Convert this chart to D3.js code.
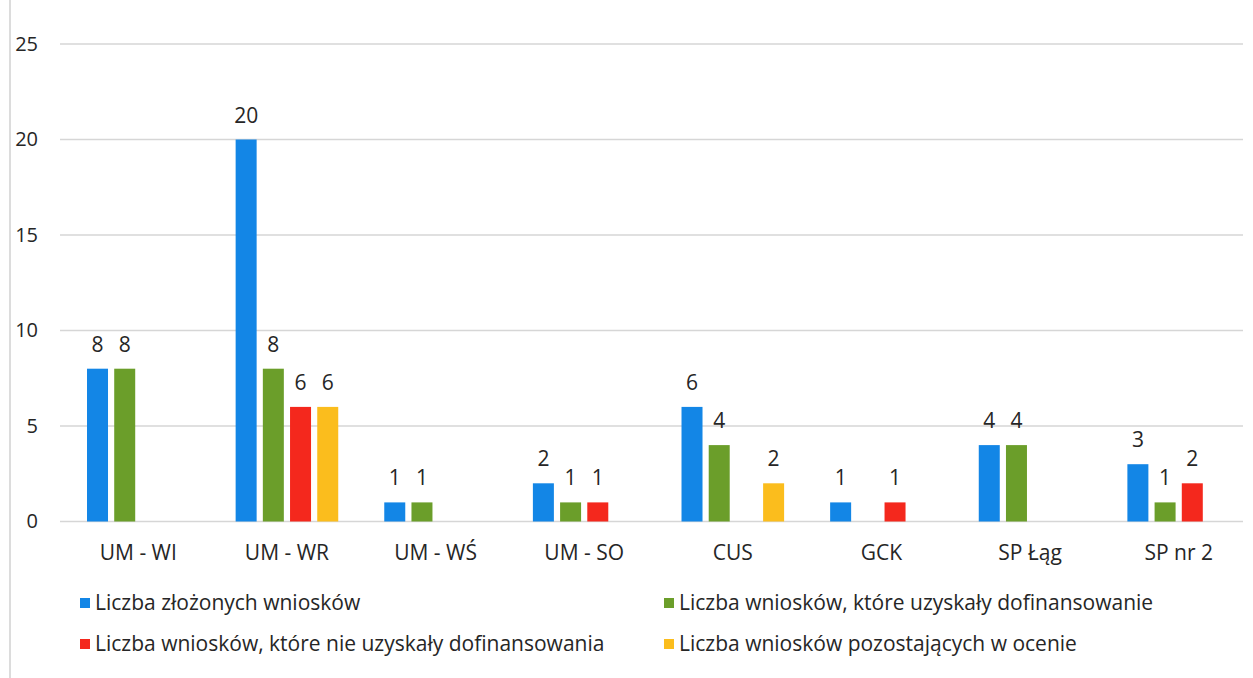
<!DOCTYPE html>
<html>
<head>
<meta charset="utf-8">
<script src="https://cdn.jsdelivr.net/npm/d3@7"></script>
<style>
  html, body { margin: 0; padding: 0; background: #fff; }
  svg { display: block; }
  text { font-family: "Open Sans", "Noto Sans", sans-serif; fill: #262626; }
</style>
</head>
<body>
<svg id="chart" width="1253" height="678"></svg>
<script>
const categories = ["UM - WI", "UM - WR", "UM - WŚ", "UM - SO", "CUS", "GCK", "SP Łąg", "SP nr 2"];
const seriesNames = [
  "Liczba złożonych wniosków",
  "Liczba wniosków, które uzyskały dofinansowanie",
  "Liczba wniosków, które nie uzyskały dofinansowania",
  "Liczba wniosków pozostających w ocenie"
];
const submitted = [8, 20, 1, 2, 6, 1, 4, 3];
const funded    = [8, 8, 1, 1, 4, 0, 4, 1];
const rejected  = [0, 6, 0, 1, 0, 1, 0, 2];
const pending   = [0, 6, 0, 0, 2, 0, 0, 0];
const yTicks = [0, 5, 10, 15, 20, 25];
const colors = ["#1386e6", "#6b9e2a", "#f4281d", "#fbbd1d"];

const seriesValues = [submitted, funded, rejected, pending];
const FONT = '"Open Sans", "Noto Sans", sans-serif';

const svg = d3.select("#chart");

// faint page border line at left
svg.append("line").attr("x1", 10).attr("x2", 10).attr("y1", 0).attr("y2", 678)
  .attr("stroke", "#dcdcdc").attr("stroke-width", 2);

const y = d3.scaleLinear().domain([0, 25]).range([521.5, 44]);
const x0 = d3.scaleBand().domain(categories).range([64, 1253]).padding(0);
const x1 = d3.scaleBand().domain(d3.range(4)).range([-51.3, 51.3]).paddingInner(0.228).paddingOuter(0);

// gridlines
svg.append("g").selectAll("line").data(yTicks).join("line")
  .attr("x1", 60).attr("x2", 1243)
  .attr("y1", d => y(d)).attr("y2", d => y(d))
  .attr("stroke", "#d6d6d6").attr("stroke-width", 1.5);

// y labels
const yAxis = d3.axisLeft(y).tickValues(yTicks).tickSize(0).tickPadding(0);
const gy = svg.append("g").attr("transform", "translate(38,0)").call(yAxis);
gy.select(".domain").remove();
gy.selectAll("text").attr("font-size", 20).attr("font-family", FONT).attr("fill", "#262626");

// x labels
const xAxis = d3.axisBottom(x0).tickSize(0).tickPadding(0);
const gx = svg.append("g").attr("transform", "translate(0,545)").call(xAxis);
gx.select(".domain").remove();
gx.selectAll("text").attr("font-size", 21).attr("font-family", FONT).attr("fill", "#262626");

// bars
const rows = [];
categories.forEach((c, i) => {
  seriesValues.forEach((vals, s) => {
    if (vals[i] > 0) rows.push({ c, s, v: vals[i] });
  });
});

const center = c => x0(c) + x0.bandwidth() / 2;

svg.append("g").selectAll("rect").data(rows).join("rect")
  .attr("x", d => center(d.c) + x1(d.s))
  .attr("width", x1.bandwidth())
  .attr("y", d => y(d.v))
  .attr("height", d => y(0) - y(d.v))
  .attr("fill", d => colors[d.s]);

svg.append("g").selectAll("text").data(rows).join("text")
  .attr("x", d => center(d.c) + x1(d.s) + x1.bandwidth() / 2)
  .attr("y", d => y(d.v) - 17)
  .attr("text-anchor", "middle")
  .attr("font-size", 21)
  .text(d => d.v);

// legend
const legendPos = [
  { x: 80, y: 603 }, { x: 664, y: 603 },
  { x: 80, y: 644 }, { x: 664, y: 644 }
];
const lg = svg.append("g").selectAll("g").data(seriesNames).join("g")
  .attr("transform", (d, i) => `translate(${legendPos[i].x},${legendPos[i].y})`);
lg.append("rect").attr("x", 0).attr("y", -5).attr("width", 10).attr("height", 10)
  .attr("fill", (d, i) => colors[i]);
lg.append("text").attr("x", 15).attr("y", 0).attr("dy", "0.35em")
  .attr("font-size", 21).text(d => d);
</script>
</body>
</html>
